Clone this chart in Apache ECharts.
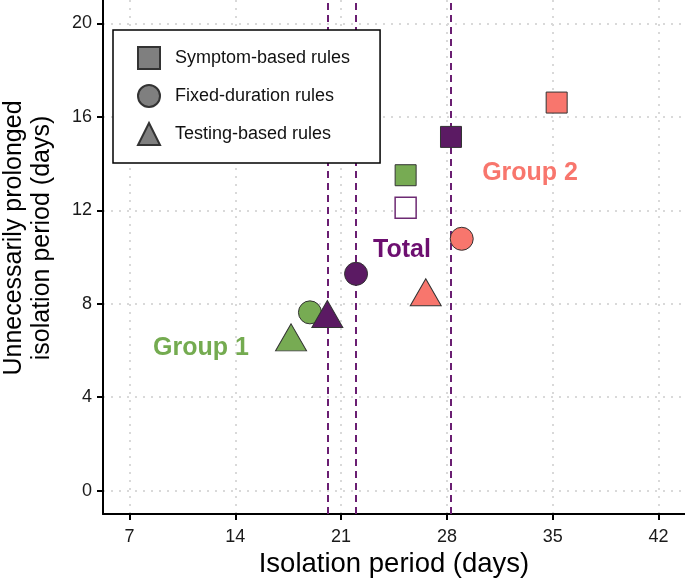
<!DOCTYPE html>
<html>
<head>
<meta charset="utf-8">
<script src="https://cdn.jsdelivr.net/npm/echarts@6/dist/echarts.min.js"></script>
<style>
html,body{margin:0;padding:0;background:#fff;}
#chart{width:685px;height:582px;}
</style>
</head>
<body>
<div id="chart"></div>
<script>
// ---- Data ----
const xTicks = [7, 14, 21, 28, 35, 42];
const yTicks = [0, 4, 8, 12, 16, 20];
const ruleNames = ['Symptom-based rules', 'Fixed-duration rules', 'Testing-based rules'];
const ruleShapes = ['rect', 'circle', 'triangle'];

// each group: x (isolation period), y (unnecessarily prolonged), rule index
const group1X = [25.27, 18.94, 17.69];
const group1Y = [13.5, 7.63, 6.56];
const group1Rule = [0, 1, 2];

const totalX = [28.27, 21.99, 20.09];
const totalY = [15.14, 9.28, 7.56];
const totalRule = [0, 1, 2];

const totalAltX = [25.27];
const totalAltY = [12.11];
const totalAltRule = [0];

const group2X = [35.26, 28.98, 26.6];
const group2Y = [16.61, 10.78, 8.49];
const group2Rule = [0, 1, 2];

const annoNames = ['Group 1', 'Total', 'Group 2'];
const annoX = [11.73, 25.03, 33.5];
const annoY = [6.12, 10.3, 13.6];

// ---- Styles ----
const cGreen = '#77AB53';
const cPurple = '#5B1A63';
const cPink = '#F8766D';
const annoColors = ['#74AB50', '#6D0F70', '#F8766D'];
const FONT = 'Liberation Sans, Arial, Helvetica, sans-serif';

const symSize = [21, 23, [31, 27]];

function pts(xs, ys, rules) {
  return xs.map((x, i) => [x, ys[i], rules[i]]);
}

function scatterSeries(name, data, color, extra) {
  return Object.assign({
    name: name,
    type: 'scatter',
    data: data,
    symbol: v => ruleShapes[v[2]],
    symbolSize: v => symSize[v[2]],
    itemStyle: { color: color, borderColor: '#333', borderWidth: 1, opacity: 1 },
    emphasis: { disabled: true },
    z: 3
  }, extra || {});
}

const chart = echarts.init(document.getElementById('chart'), null, { renderer: 'canvas' });

const series = [
  // legend-only series
  ...ruleNames.map((n, i) => ({
    name: n, type: 'scatter', data: [], symbol: ruleShapes[i],
    itemStyle: { color: '#7F7F7F', borderColor: '#333', borderWidth: 1, opacity: 1 }
  })),
  scatterSeries('Group 1', pts(group1X, group1Y, group1Rule), cGreen),
  scatterSeries('Total', pts(totalX, totalY, totalRule), cPurple, {
    markLine: {
      silent: true,
      symbol: ['none', 'none'],
      z: 1,
      label: { show: false },
      lineStyle: { color: '#6A1E72', width: 2, type: [7, 5] },
      data: totalX.map(x => ({ xAxis: x }))
    }
  }),
  scatterSeries('Total (alt)', pts(totalAltX, totalAltY, totalAltRule), '#ffffff', {
    itemStyle: { color: '#ffffff', borderColor: '#6D2A73', borderWidth: 1.5, opacity: 1 }
  }),
  scatterSeries('Group 2', pts(group2X, group2Y, group2Rule), cPink),
  {
    name: 'labels',
    type: 'scatter',
    data: annoNames.map((n, i) => ({
      value: [annoX[i], annoY[i]],
      name: n,
      label: { color: annoColors[i] }
    })),
    symbolSize: 1,
    itemStyle: { color: 'rgba(0,0,0,0)', opacity: 1 },
    silent: true,
    z: 4,
    label: {
      show: true,
      position: 'inside',
      formatter: p => p.name,
      fontFamily: FONT,
      fontWeight: 'bold',
      fontSize: 25
    }
  }
];

const option = {
  backgroundColor: '#ffffff',
  animation: false,
  textStyle: { fontFamily: FONT },
  grid: { left: 103, right: 0, top: 0, bottom: 68, containLabel: false, outerBoundsMode: 'none' },
  legend: {
    data: ruleNames,
    orient: 'vertical',
    left: 113,
    top: 30,
    itemWidth: 22,
    itemHeight: 22,
    itemGap: 14,
    padding: [16, 30, 17, 24],
    borderColor: '#000',
    borderWidth: 1.5,
    backgroundColor: '#fff',
    selectedMode: false,
    textStyle: { fontFamily: FONT, fontSize: 18, color: '#111', padding: [0, 0, 0, 10] }
  },
  xAxis: {
    type: 'value',
    min: 5.25,
    max: 43.75,
    name: 'Isolation period (days)',
    nameLocation: 'middle',
    nameGap: 36,
    nameTextStyle: { fontFamily: FONT, fontSize: 27.5, color: '#000' },
    axisLine: { show: true, onZero: false, lineStyle: { color: '#000', width: 2 } },
    axisTick: { show: true, length: 6, lineStyle: { color: '#000', width: 2 }, customValues: xTicks },
    axisLabel: { fontFamily: FONT, fontSize: 18, color: '#1a1a1a', margin: 14, customValues: xTicks },
    splitLine: { show: true, lineStyle: { color: '#D9D9D9', width: 2, type: [2, 6] } }
  },
  yAxis: {
    type: 'value',
    min: -1,
    max: 21,
    name: 'Unnecessarily prolonged\nisolation period (days)',
    nameLocation: 'middle',
    nameRotate: 90,
    nameGap: 47,
    nameTextStyle: { fontFamily: FONT, fontSize: 25, color: '#000', lineHeight: 28, padding: [0, 0, 0, 38] },
    axisLine: { show: true, onZero: false, lineStyle: { color: '#000', width: 2 } },
    axisTick: { show: true, length: 6, lineStyle: { color: '#000', width: 2 }, customValues: yTicks },
    axisLabel: { fontFamily: FONT, fontSize: 18, color: '#1a1a1a', margin: 11, customValues: yTicks },
    splitLine: { show: true, lineStyle: { color: '#D9D9D9', width: 2, type: [2, 6] } }
  },
  series: series
};

chart.setOption(option);
</script>
</body>
</html>
